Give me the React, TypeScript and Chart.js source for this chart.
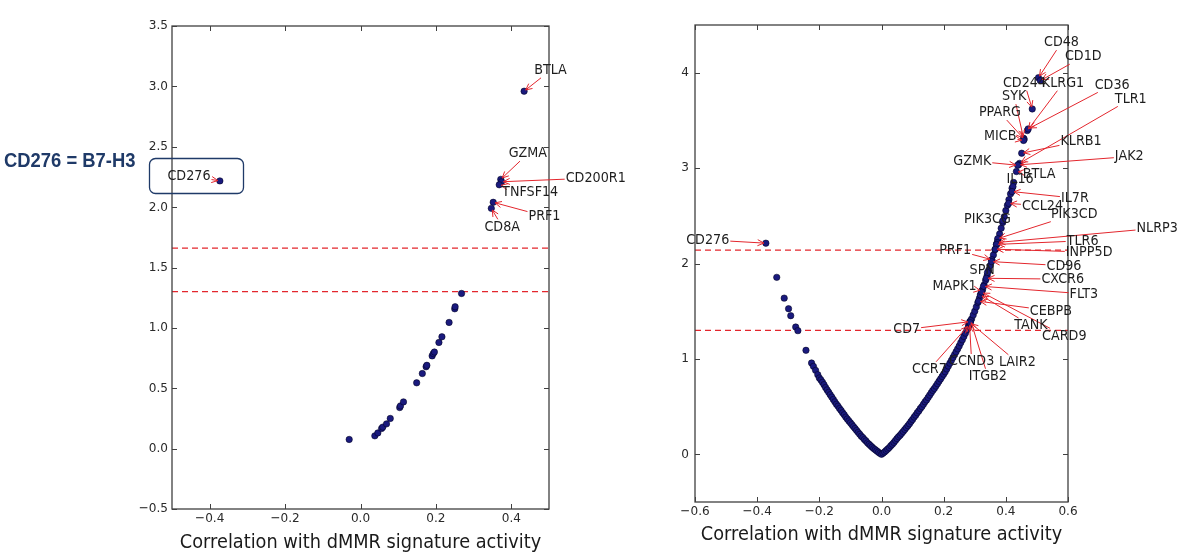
import React, { useEffect, useRef } from 'react';
import { Chart, registerables } from 'chart.js';

Chart.register(...registerables);

// ---------------- data ----------------
const X_TITLE = 'Correlation with dMMR signature activity';

const LEFT_X_TICKS = [-0.4, -0.2, 0, 0.2, 0.4];
const LEFT_Y_TICKS = [-0.5, 0, 0.5, 1, 1.5, 2, 2.5, 3, 3.5];
const RIGHT_X_TICKS = [-0.6, -0.4, -0.2, 0, 0.2, 0.4, 0.6];
const RIGHT_Y_TICKS = [0, 1, 2, 3, 4];

const LEFT_THRESHOLDS = [1.66, 1.3];
const RIGHT_THRESHOLDS = [2.14, 1.3];

// left panel: unlabeled genes [correlation, -log10 p]
const LEFT_POINTS: [number, number][] = [
  [-0.03, 0.076], [0.038, 0.106], [0.046, 0.13], [0.056, 0.167], [0.059, 0.178], [0.069, 0.205],
  [0.079, 0.25], [0.104, 0.34], [0.106, 0.354], [0.114, 0.387], [0.149, 0.545], [0.164, 0.622],
  [0.174, 0.678], [0.176, 0.69], [0.19, 0.768], [0.193, 0.787], [0.196, 0.8], [0.208, 0.879],
  [0.216, 0.926], [0.235, 1.045], [0.25, 1.158], [0.251, 1.175], [0.268, 1.285],
];

// left panel: labeled genes
const LEFT_GENES = ['CD276', 'BTLA', 'GZMA', 'CD200R1', 'TNFSF14', 'PRF1', 'CD8A'];
const LEFT_GENE_VALUES: [number, number][] = [
  [-0.373, 2.217], [0.434, 2.96], [0.372, 2.23], [0.374, 2.21], [0.368, 2.185], [0.352, 2.04], [0.347, 1.99],
];
// label anchor (text centre) in data units, like matplotlib xytext
const LEFT_LABEL_AT: [number, number][] = [
  [-0.455, 2.259], [0.504, 3.133], [0.444, 2.443], [0.624, 2.242], [0.45, 2.126], [0.488, 1.925], [0.376, 1.837],
];

// right panel: negative-correlation branch
const RIGHT_NEG: [number, number][] = [
  [-0.337, 1.855], [-0.313, 1.637], [-0.299, 1.526], [-0.292, 1.453], [-0.276, 1.334], [-0.269, 1.296],
  [-0.243, 1.09], [-0.225, 0.957], [-0.219, 0.922], [-0.212, 0.88], [-0.205, 0.835],
  [-0.2, 0.8], [-0.195, 0.78], [-0.19, 0.755], [-0.185, 0.73], [-0.18, 0.7], [-0.175, 0.675],
  [-0.17, 0.65], [-0.165, 0.625], [-0.16, 0.6], [-0.155, 0.575], [-0.15, 0.55], [-0.145, 0.525],
  [-0.14, 0.505], [-0.135, 0.48], [-0.13, 0.46], [-0.125, 0.435], [-0.12, 0.415], [-0.115, 0.39],
  [-0.11, 0.37], [-0.105, 0.35], [-0.1, 0.33], [-0.095, 0.31], [-0.09, 0.29], [-0.085, 0.27],
  [-0.08, 0.25], [-0.075, 0.23], [-0.07, 0.21], [-0.065, 0.19], [-0.06, 0.175], [-0.055, 0.155],
  [-0.05, 0.14], [-0.045, 0.12], [-0.04, 0.105], [-0.035, 0.09], [-0.03, 0.075], [-0.025, 0.06],
  [-0.02, 0.048], [-0.015, 0.035], [-0.01, 0.022], [-0.005, 0.01], [0, 0],
];

// right panel: positive-correlation branch
const RIGHT_POS: [number, number][] = [
  [0.005, 0.012], [0.01, 0.025], [0.015, 0.04], [0.02, 0.055], [0.025, 0.07], [0.03, 0.09],
  [0.035, 0.105], [0.04, 0.125], [0.045, 0.145], [0.05, 0.165], [0.055, 0.185], [0.06, 0.2],
  [0.065, 0.22], [0.07, 0.24], [0.075, 0.26], [0.08, 0.28], [0.085, 0.3], [0.09, 0.32],
  [0.095, 0.345], [0.1, 0.365], [0.105, 0.39], [0.11, 0.41], [0.115, 0.435], [0.12, 0.455],
  [0.125, 0.48], [0.13, 0.5], [0.135, 0.525], [0.14, 0.55], [0.145, 0.57], [0.15, 0.595],
  [0.155, 0.62], [0.16, 0.645], [0.165, 0.67], [0.17, 0.69], [0.175, 0.715], [0.18, 0.74],
  [0.185, 0.765], [0.19, 0.79], [0.195, 0.815], [0.2, 0.84], [0.205, 0.865], [0.21, 0.895],
  [0.215, 0.925], [0.22, 0.955], [0.225, 0.985], [0.23, 1.015], [0.235, 1.045], [0.24, 1.075],
  [0.245, 1.105], [0.25, 1.135], [0.255, 1.17], [0.26, 1.2], [0.265, 1.235], [0.27, 1.27],
  [0.275, 1.305], [0.28, 1.34], [0.285, 1.38], [0.29, 1.42], [0.295, 1.46], [0.3, 1.5],
  [0.305, 1.545], [0.31, 1.59], [0.315, 1.635], [0.32, 1.68], [0.325, 1.725], [0.33, 1.775],
  [0.335, 1.825], [0.34, 1.875], [0.345, 1.93], [0.35, 1.98], [0.355, 2.035], [0.36, 2.09],
  [0.365, 2.145], [0.37, 2.2], [0.375, 2.255], [0.38, 2.31], [0.385, 2.37], [0.39, 2.43],
  [0.395, 2.49], [0.4, 2.555], [0.405, 2.61], [0.41, 2.67], [0.415, 2.73], [0.42, 2.79], [0.425, 2.85],
];

// right panel: labeled genes
const RIGHT_GENES = [
  'CD276', 'CD48', 'CD1D', 'CD244', 'KLRG1', 'CD36', 'TLR1', 'SYK', 'PPARG', 'MICB', 'KLRB1', 'JAK2',
  'GZMK', 'BTLA', 'IL16', 'IL7R', 'CCL24', 'PIK3CD', 'PIK3CG', 'NLRP3', 'TLR6', 'INPP5D', 'PRF1',
  'CD96', 'SPN', 'CXCR6', 'MAPK1', 'FLT3', 'CEBPB', 'TANK', 'CARD9', 'CD7', 'CCR7', 'CCND3', 'ITGB2', 'LAIR2',
];
const RIGHT_GENE_VALUES: [number, number][] = [
  [-0.372, 2.213], [0.505, 3.948], [0.511, 3.917], [0.485, 3.62], [0.469, 3.393], [0.472, 3.411],
  [0.444, 3.05], [0.457, 3.313], [0.459, 3.303], [0.457, 3.29], [0.451, 3.156], [0.441, 3.034],
  [0.438, 3.03], [0.434, 2.964], [0.423, 2.806], [0.42, 2.754], [0.409, 2.63], [0.374, 2.26],
  [0.39, 2.447], [0.372, 2.22], [0.37, 2.2], [0.366, 2.15], [0.355, 2.04], [0.354, 2.02],
  [0.341, 1.905], [0.337, 1.845], [0.323, 1.715], [0.328, 1.76], [0.312, 1.605], [0.318, 1.67],
  [0.322, 1.7], [0.284, 1.39], [0.281, 1.355], [0.283, 1.37], [0.287, 1.4], [0.285, 1.38],
];
const RIGHT_LABEL_AT: [number, number][] = [
  [-0.559, 2.248], [0.579, 4.315], [0.649, 4.168], [0.46, 3.89], [0.584, 3.89], [0.742, 3.872],
  [0.802, 3.725], [0.427, 3.749], [0.381, 3.582], [0.382, 3.33], [0.642, 3.285], [0.797, 3.121],
  [0.292, 3.076], [0.507, 2.939], [0.446, 2.884], [0.622, 2.685], [0.518, 2.604], [0.62, 2.517],
  [0.341, 2.465], [0.887, 2.371], [0.647, 2.238], [0.668, 2.119], [0.237, 2.143], [0.587, 1.976],
  [0.324, 1.934], [0.583, 1.836], [0.235, 1.766], [0.651, 1.682], [0.545, 1.504], [0.481, 1.35],
  [0.588, 1.242], [0.081, 1.309], [0.154, 0.891], [0.29, 0.973], [0.342, 0.818], [0.437, 0.965],
];

// ---------------- styling ----------------
const NAVY = '#1a1a7e';
const RED = '#e3262d';
const FONT = 'DejaVu Sans';
const FRAME = '#404040';
const LABEL_SIZE = 14.5;
const LABEL_SQUEEZE = 0.88;
const TICK_SIZE = 13;
const TICK_SQUEEZE = 0.93;
const TITLE_SIZE = 19.5;
const TITLE_SQUEEZE = 0.91;

const fmt = (dec: number) => (v: number) => v.toFixed(dec).replace('-', '\u2212');

function squeezedText(
  ctx: CanvasRenderingContext2D, text: string, x: number, y: number,
  size: number, sx: number, align: CanvasTextAlign, color: string,
) {
  ctx.save();
  ctx.font = `${size}px "${FONT}"`;
  ctx.fillStyle = color;
  ctx.textAlign = align;
  ctx.textBaseline = 'middle';
  ctx.translate(x, y);
  ctx.scale(sx, 1);
  ctx.fillText(text, 0, 0);
  ctx.restore();
}

function axesPlugin(xt: number[], yt: number[], xf: (v: number) => string, yf: (v: number) => string, yPad: number, titleY: number) {
  return {
    id: 'axesFrame',
    afterDatasetsDraw(chart: any) {
      const { ctx, chartArea: a, scales } = chart;
      ctx.save();
      ctx.strokeStyle = FRAME;
      ctx.lineWidth = 1.3;
      ctx.strokeRect(a.left, a.top, a.right - a.left, a.bottom - a.top);
      ctx.lineWidth = 1;
      const L = 5;
      ctx.beginPath();
      for (const v of xt) {
        const p = Math.round(scales.x.getPixelForValue(v)) + 0.5;
        ctx.moveTo(p, a.bottom); ctx.lineTo(p, a.bottom - L);
        ctx.moveTo(p, a.top); ctx.lineTo(p, a.top + L);
      }
      for (const v of yt) {
        const p = Math.round(scales.y.getPixelForValue(v)) + 0.5;
        ctx.moveTo(a.left, p); ctx.lineTo(a.left + L, p);
        ctx.moveTo(a.right, p); ctx.lineTo(a.right - L, p);
      }
      ctx.stroke();
      ctx.restore();
      for (const v of xt) {
        squeezedText(ctx, xf(v), scales.x.getPixelForValue(v), a.bottom + 10, TICK_SIZE, TICK_SQUEEZE, 'center', '#2a2a2a');
      }
      for (const v of yt) {
        squeezedText(ctx, yf(v), a.left - yPad, scales.y.getPixelForValue(v), TICK_SIZE, TICK_SQUEEZE, 'right', '#2a2a2a');
      }
      squeezedText(ctx, X_TITLE, (a.left + a.right) / 2, titleY, TITLE_SIZE, TITLE_SQUEEZE, 'center', '#1a1a1a');
    },
  };
}

function annotationPlugin(names: string[], values: [number, number][], labels: [number, number][]) {
  return {
    id: 'annotations',
    afterDatasetsDraw(chart: any) {
      const { ctx, scales } = chart;
      ctx.save();
      ctx.font = `${LABEL_SIZE}px "${FONT}"`;
      const items = names.map((n, i) => {
        const px = scales.x.getPixelForValue(values[i][0]);
        const py = scales.y.getPixelForValue(values[i][1]);
        const tx = scales.x.getPixelForValue(labels[i][0]);
        const ty = scales.y.getPixelForValue(labels[i][1]);
        return { n, px, py, tx, ty, w: ctx.measureText(n).width * LABEL_SQUEEZE };
      });
      ctx.strokeStyle = RED;
      ctx.lineWidth = 1;
      for (const it of items) {
        const dx = it.px - it.tx, dy = it.py - it.ty;
        const hw = it.w / 2 + 1, hh = 7.5;
        let s = Infinity;
        if (dx !== 0) s = Math.min(s, hw / Math.abs(dx));
        if (dy !== 0) s = Math.min(s, hh / Math.abs(dy));
        if (!(s < 1)) continue;
        const sx = it.tx + dx * s, sy = it.ty + dy * s;
        const len = Math.hypot(it.px - sx, it.py - sy);
        if (len < 1) continue;
        const ux = (it.px - sx) / len, uy = (it.py - sy) / len;
        const ex = it.px - ux * 2, ey = it.py - uy * 2;
        ctx.beginPath();
        ctx.moveTo(sx, sy);
        ctx.lineTo(ex, ey);
        const ang = Math.atan2(uy, ux);
        const H = 7;
        ctx.moveTo(ex - H * Math.cos(ang - 0.45), ey - H * Math.sin(ang - 0.45));
        ctx.lineTo(ex, ey);
        ctx.lineTo(ex - H * Math.cos(ang + 0.45), ey - H * Math.sin(ang + 0.45));
        ctx.stroke();
      }
      ctx.restore();
      for (const it of items) squeezedText(ctx, it.n, it.tx, it.ty, LABEL_SIZE, LABEL_SQUEEZE, 'center', '#1e1e1e');
    },
  };
}

const calloutPlugin = {
  id: 'callout',
  afterDraw(chart: any) {
    const { ctx } = chart;
    ctx.save();
    ctx.strokeStyle = '#1f3a68';
    ctx.lineWidth = 1.3;
    ctx.beginPath();
    ctx.roundRect(149.5, 158.5, 94, 35, 6);
    ctx.stroke();
    ctx.restore();
    ctx.save();
    ctx.fillStyle = '#1f3a68';
    ctx.font = 'bold 20px "Liberation Sans"';
    ctx.textAlign = 'left';
    ctx.textBaseline = 'middle';
    ctx.translate(4, 161);
    ctx.scale(0.92, 1);
    ctx.fillText('CD276 = B7-H3', 0, 0);
    ctx.restore();
  },
};

type PanelOpts = {
  points: [number, number][];
  thresholds: number[];
  xRange: [number, number];
  yRange: [number, number];
  padding: { left: number; right: number; top: number; bottom: number };
  yAxisWidth: number;
  xAxisHeight: number;
  plugins: any[];
};

function buildConfig(o: PanelOpts): any {
  return {
    type: 'scatter',
    data: {
      datasets: [
        {
          data: o.points.map(([x, y]) => ({ x, y })),
          backgroundColor: NAVY,
          borderColor: 'rgba(0,0,30,0.9)',
          borderWidth: 0.6,
          pointRadius: 3.2,
          order: 1,
        },
        ...o.thresholds.map((t) => ({
          data: [{ x: o.xRange[0], y: t }, { x: o.xRange[1], y: t }],
          showLine: true,
          borderColor: RED,
          borderWidth: 1.3,
          borderDash: [6, 4],
          pointRadius: 0,
          order: 3,
        })),
      ],
    },
    options: {
      animation: false,
      responsive: false,
      maintainAspectRatio: false,
      layout: { padding: o.padding },
      plugins: { legend: { display: false }, tooltip: { enabled: false } },
      scales: {
        x: {
          type: 'linear',
          min: o.xRange[0],
          max: o.xRange[1],
          afterFit: (s: any) => { s.height = o.xAxisHeight; },
          grid: { display: false, drawTicks: false },
          border: { display: false },
          ticks: { display: false },
        },
        y: {
          type: 'linear',
          min: o.yRange[0],
          max: o.yRange[1],
          afterFit: (s: any) => { s.width = o.yAxisWidth; },
          grid: { display: false, drawTicks: false },
          border: { display: false },
          ticks: { display: false },
        },
      },
    },
    plugins: o.plugins,
  };
}

function Panel({ left, width, config }: { left: number; width: number; config: () => any }) {
  const ref = useRef<HTMLCanvasElement>(null);
  useEffect(() => {
    if (!ref.current) return;
    const chart = new Chart(ref.current, config());
    return () => chart.destroy();
  }, []);
  return (
    <canvas
      ref={ref}
      width={width}
      height={560}
      style={{ position: 'absolute', left, top: 0, width, height: 560 }}
    />
  );
}

export default function App() {
  const leftConfig = () =>
    buildConfig({
      points: [...LEFT_POINTS, ...LEFT_GENE_VALUES],
      thresholds: LEFT_THRESHOLDS,
      xRange: [-0.5, 0.5],
      yRange: [-0.5, 3.5],
      padding: { left: 122, right: 131, top: 26, bottom: 0 },
      yAxisWidth: 50,
      xAxisHeight: 51,
      plugins: [
        axesPlugin(LEFT_X_TICKS, LEFT_Y_TICKS, fmt(1), fmt(1), 4, 543),
        annotationPlugin(LEFT_GENES, LEFT_GENE_VALUES, LEFT_LABEL_AT),
        calloutPlugin,
      ],
    });
  const rightConfig = () =>
    buildConfig({
      points: [...RIGHT_NEG, ...RIGHT_POS, ...RIGHT_GENE_VALUES],
      thresholds: RIGHT_THRESHOLDS,
      xRange: [-0.6, 0.6],
      yRange: [-0.5, 4.5],
      padding: { left: 55, right: 132, top: 25, bottom: 0 },
      yAxisWidth: 40,
      xAxisHeight: 58,
      plugins: [
        axesPlugin(RIGHT_X_TICKS, RIGHT_Y_TICKS, fmt(1), fmt(0), 6, 535),
        annotationPlugin(RIGHT_GENES, RIGHT_GENE_VALUES, RIGHT_LABEL_AT),
      ],
    });
  return (
    <div style={{ position: 'fixed', left: 0, top: 0, width: 1200, height: 560, background: '#fff', overflow: 'hidden' }}>
      <Panel left={0} width={680} config={leftConfig} />
      <Panel left={600} width={600} config={rightConfig} />
    </div>
  );
}
